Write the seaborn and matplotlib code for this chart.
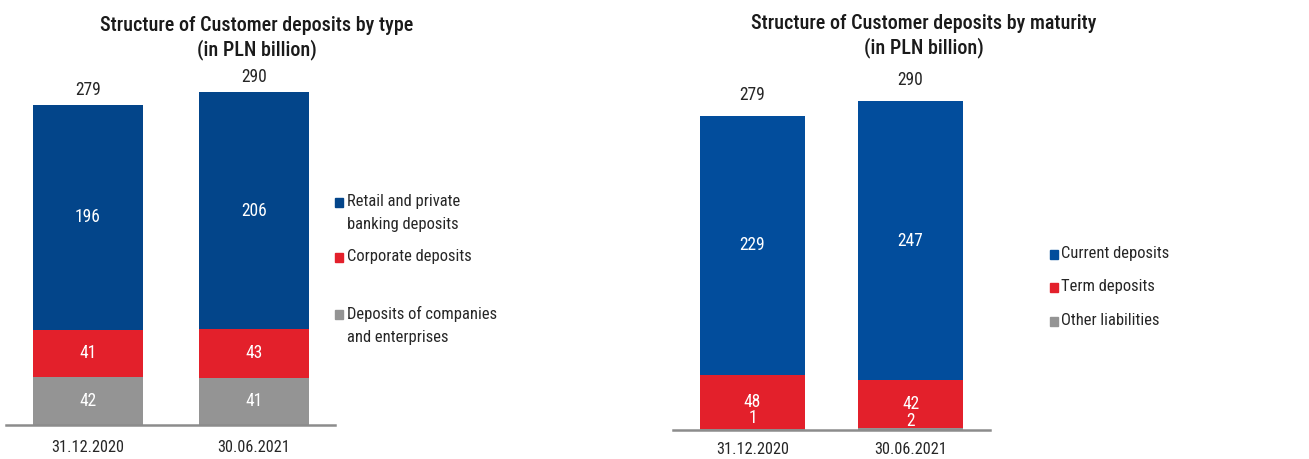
import matplotlib
matplotlib.use("Agg")
import matplotlib.pyplot as plt
from matplotlib import font_manager
from matplotlib.font_manager import FontProperties
from matplotlib.textpath import TextPath
from matplotlib.patches import Rectangle
import numpy as np
import pandas as pd
import seaborn as sns

sns.set_theme(style="white")

# --- data -------------------------------------------------------------------
dates = ["31.12.2020", "30.06.2021"]

type_labels = ["Retail and private\nbanking deposits", "Corporate deposits",
               "Deposits of companies\nand enterprises"]
type_retail = [196, 206]
type_corporate = [41, 43]
type_companies = [42, 41]
type_totals = [279, 290]

maturity_labels = ["Current deposits", "Term deposits", "Other liabilities"]
mat_current = [229, 247]
mat_term = [48, 42]
mat_other = [1, 2]
mat_totals = [279, 290]

BLUE_L = "#03458A"
BLUE_R = "#024D9C"
RED = "#E3202B"
GREY = "#949494"
TXT = "#262626"

# --- pick a narrow sans family if one is available --------------------------
fonts = font_manager.fontManager.ttflist
names = {f.name for f in fonts}
FAMILY, STRETCH = "DejaVu Sans", "normal"
for fam in ["Liberation Sans Narrow", "Arial Narrow", "Roboto Condensed",
            "Open Sans Condensed", "Noto Sans Condensed", "DejaVu Sans Condensed"]:
    if fam in names:
        FAMILY = fam
        break
else:
    cond = [f for f in fonts if f.name in ("Noto Sans", "Open Sans", "DejaVu Sans", "Roboto")
            and str(f.stretch) in ("condensed", "semi-condensed", "extra-condensed", "75", "87.5")]
    if cond:
        FAMILY, STRETCH = cond[0].name, "condensed"
    elif "Roboto" in names:
        FAMILY = "Roboto"

plt.rcParams["font.family"] = [FAMILY, "DejaVu Sans"]
plt.rcParams["font.stretch"] = STRETCH
TITLE_WEIGHT = "medium"


def fit(text, target_px, cap, weight="normal"):
    fp = FontProperties(family=FAMILY, stretch=STRETCH, weight=weight)
    w = TextPath((0, 0), text, size=10, prop=fp).get_extents().width
    size = target_px / (w / 10 * 100 / 72)
    return min(size, cap)


FS_TICK = fit("31.12.2020", 71, 13.5)
FS_VAL = fit("279", 24, 13.5)
FS_LEG = fit("Corporate deposits", 123, 13.5)
FS_TITLE = fit("Structure of Customer deposits by type", 313, 15, TITLE_WEIGHT)

W, H = 1309, 459
fig = plt.figure(figsize=(W / 100, H / 100), dpi=100)


def px_axes(x0, x1, y_base, y_top):
    return fig.add_axes([x0 / W, (H - y_base) / H, (x1 - x0) / W, (y_base - y_top) / H])


def stacked(ax, layers, colors, width, ymax, xlim, totals, label_offsets, tot_off, pad):
    # layers listed bottom -> top; draw cumulative heights from the top down
    cums = np.cumsum(np.array(layers), axis=0)
    for i in range(len(layers) - 1, -1, -1):
        df = pd.DataFrame({"date": dates, "v": cums[i]})
        sns.barplot(data=df, x="date", y="v", color=colors[i], width=width,
                    saturation=1, ax=ax, order=dates, linewidth=0)
    ax.set_ylim(0, ymax)
    ax.set_xlim(*xlim)
    # segment labels
    for i, vals in enumerate(layers):
        base = cums[i] - np.array(vals)
        for j, v in enumerate(vals):
            ax.text(j, base[j] + v / 2 + label_offsets[i][j], f"{v}", ha="center",
                    va="center", color="white", fontsize=FS_VAL)
    for j, t in enumerate(totals):
        ax.text(j, cums[-1][j] + tot_off, f"{t}", ha="center", va="center",
                color=TXT, fontsize=FS_VAL)
    ax.set_xlabel("")
    ax.set_ylabel("")
    ax.set_yticks([])
    for s in ["top", "right", "left"]:
        ax.spines[s].set_visible(False)
    ax.spines["bottom"].set_color("#8C8C8C")
    ax.spines["bottom"].set_linewidth(1.8)
    ax.tick_params(axis="x", length=0, pad=pad, labelsize=FS_TICK, labelcolor=TXT)


# left chart: by type
ax1 = px_axes(6, 335, 425, 45)
stacked(ax1, [type_companies, type_corporate, type_retail], [GREY, RED, BLUE_L],
        0.663, 380 / 1.147, (-0.494, 1.488), type_totals, [[0, 0]] * 3, 13, 11)

# right chart: by maturity
ax2 = px_axes(673, 990, 430, 50)
stacked(ax2, [mat_other, mat_term, mat_current], [GREY, RED, BLUE_R],
        0.665, 380 / 1.129, (-0.503, 1.503), mat_totals, [[10, 7], [0, 0], [0, 0]], 19, 9)

# titles
fig.text(256.5 / W, 1 - 38 / H, "Structure of Customer deposits by type\n(in PLN billion)",
         ha="center", va="center", fontsize=FS_TITLE, fontweight=TITLE_WEIGHT,
         color="#1a1a1a", linespacing=1.3)
fig.text(924 / W, 1 - 36 / H, "Structure of Customer deposits by maturity\n(in PLN billion)",
         ha="center", va="center", fontsize=FS_TITLE, fontweight=TITLE_WEIGHT,
         color="#1a1a1a", linespacing=1.3)


def legend(x_sq, x_txt, ys, labels, colors):
    for y, lab, c in zip(ys, labels, colors):
        fig.patches.append(Rectangle((x_sq / W, 1 - (y + 4) / H), 8 / W, 9 / H,
                                     transform=fig.transFigure, color=c, figure=fig))
        fig.text(x_txt / W, 1 - (y - 9) / H, lab, ha="left", va="top",
                 fontsize=FS_LEG, color=TXT, linespacing=1.65)


legend(335, 347, [203, 258, 315], type_labels, [BLUE_L, RED, GREY])
legend(1050, 1061, [255, 288, 322], maturity_labels, [BLUE_R, RED, GREY])

fig.savefig("out.png", dpi=100)
